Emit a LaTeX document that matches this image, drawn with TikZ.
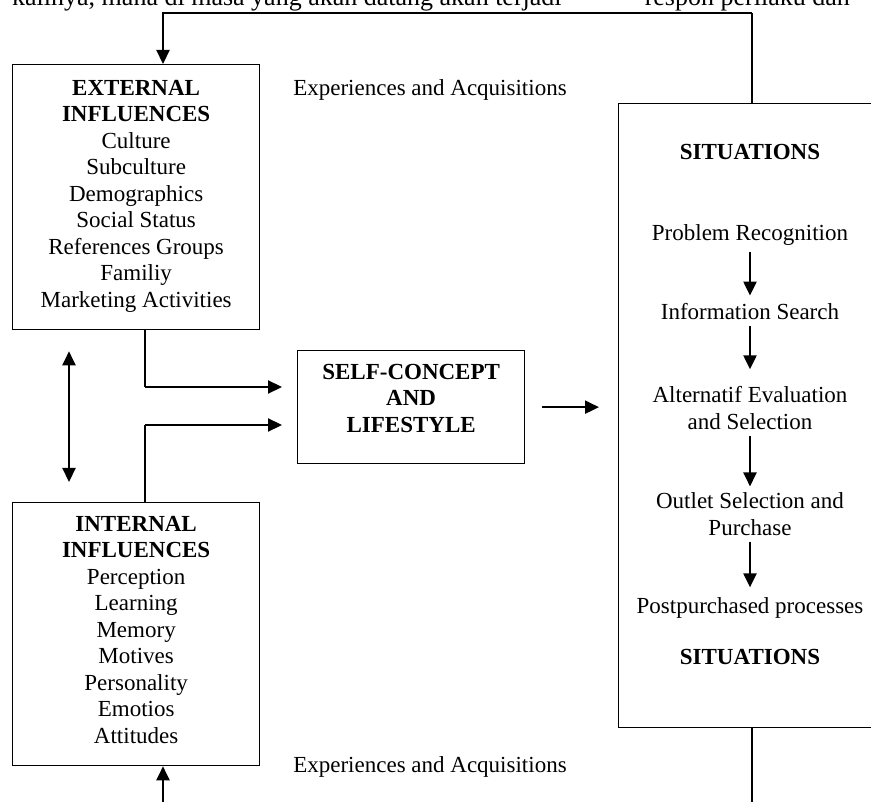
\documentclass[tikz,border=0pt]{standalone}
\usepackage{fontspec}
\setmainfont{Liberation Serif}
\usepackage{tikz}
\usetikzlibrary{arrows.meta,positioning}
\newcommand{\diagfont}{\fontsize{23}{26.5}\selectfont}
\tikzstyle{block} = [draw, rectangle, line width=1.3pt, inner sep=0pt, anchor=north west]
\tikzstyle{boxtext} = [align=center, inner sep=0pt, font=\diagfont]
\tikzstyle{stage} = [align=center, inner sep=6pt, font=\diagfont]
\tikzstyle{link} = [draw, line width=1.2pt]
\tikzstyle{flow} = [draw, line width=2.2pt, -{Triangle[length=14pt,width=13pt]}]
\tikzstyle{dflow} = [draw, line width=2.2pt, {Triangle[length=14pt,width=13pt]}-{Triangle[length=14pt,width=13pt]}]

\begin{document}
\begin{tikzpicture}[x=1pt, y=-1pt]
    \useasboundingbox (0,0) rectangle (871,802);
    \clip (0,0) rectangle (871,802);

    % line of the page above the figure, cut off
    \node[anchor=base west, inner sep=0pt, font=\fontsize{26}{30}\selectfont] (pagetext) at (12,6)
        {kalinya, mana di masa yang akan datang akan terjadi\hspace{3.2em}respon perilaku dan};

    % First the boxes
    \node[block, minimum width=247pt, minimum height=265pt] (ext) at (12,64) {};
    \node[block, minimum width=247pt, minimum height=263pt] (int) at (12,502) {};
    \node[block, minimum width=227pt, minimum height=113pt] (self) at (297,350) {};
    \node[block, minimum width=300pt, minimum height=624pt] (sit) at (618,103) {};

    % texts inside the boxes
    \node[boxtext, below=16pt of ext.north] (exttext) {\textbf{EXTERNAL}\\\textbf{INFLUENCES}\\Culture\\Subculture\\Demographics\\Social Status\\References Groups\\Familiy\\Marketing Activities};
    \node[boxtext, below=14pt of int.north] (inttext) {\textbf{INTERNAL}\\\textbf{INFLUENCES}\\Perception\\Learning\\Memory\\Motives\\Personality\\Emotios\\Attitudes};
    \node[boxtext, below=14pt of self.north] (selftext) {\textbf{SELF-CONCEPT}\\\textbf{AND}\\\textbf{LIFESTYLE}};

    \node[boxtext] (exptop) at (430,90) {Experiences and Acquisitions};
    \node[boxtext] (expbot) at (430,767) {Experiences and Acquisitions};

    % the decision process
    \node[stage, font=\diagfont\bfseries] (sithead) at (750,152) {SITUATIONS};
    \foreach \pos/\name/\txt in {{(750,235)/prob/Problem Recognition},{(750,312)/info/Information Search},
        {(750,408)/alt/{Alternatif Evaluation\\and Selection}},{(750,514)/outl/{Outlet Selection and\\Purchase}},
        {(750,608)/post/Postpurchased processes}}
        \node[stage] (\name) at \pos {\txt};
    \node[stage, font=\diagfont\bfseries] (sitfoot) at (750,657) {SITUATIONS};

    \foreach \source/\dest/\gap in {prob/info/2pt, info/alt/11pt, alt/outl/0pt, outl/post/4pt}
        \draw[flow, shorten >=\gap] (\source) -- (\dest);

    % Connectors
    \coordinate (topr) at (752,13);
    \coordinate (topl) at (163,13);
    \coordinate (botr) at (752,802);
    \coordinate (botl) at (163,802);
    \coordinate (dbl) at (69,0);
    \coordinate (fork1) at (145,387);
    \coordinate (fork2) at (145,425);
    \coordinate (in1) at (282,387);
    \coordinate (in2) at (282,425);

    \draw[link] (topr |- sit.north) -- (topr);
    \draw[flow] (topr) -| (ext.north -| topl);
    \draw[link] (botr |- sit.south) -- (botr);
    \draw[flow] (botl) -- (botl |- int.south);

    \draw[dflow, shorten <=21pt, shorten >=20pt] (dbl |- ext.south) -- (dbl |- int.north);

    \draw[link] (fork1 |- ext.south) -- (fork1);
    \draw[flow] (fork1) -- (in1);
    \draw[link] (fork2 |- int.north) -- (fork2);
    \draw[flow] (fork2) -- (in2);

    \draw[flow, shorten <=17pt, shorten >=19pt] (self.east) -- (self.east -| sit.west);
\end{tikzpicture}
\end{document}
